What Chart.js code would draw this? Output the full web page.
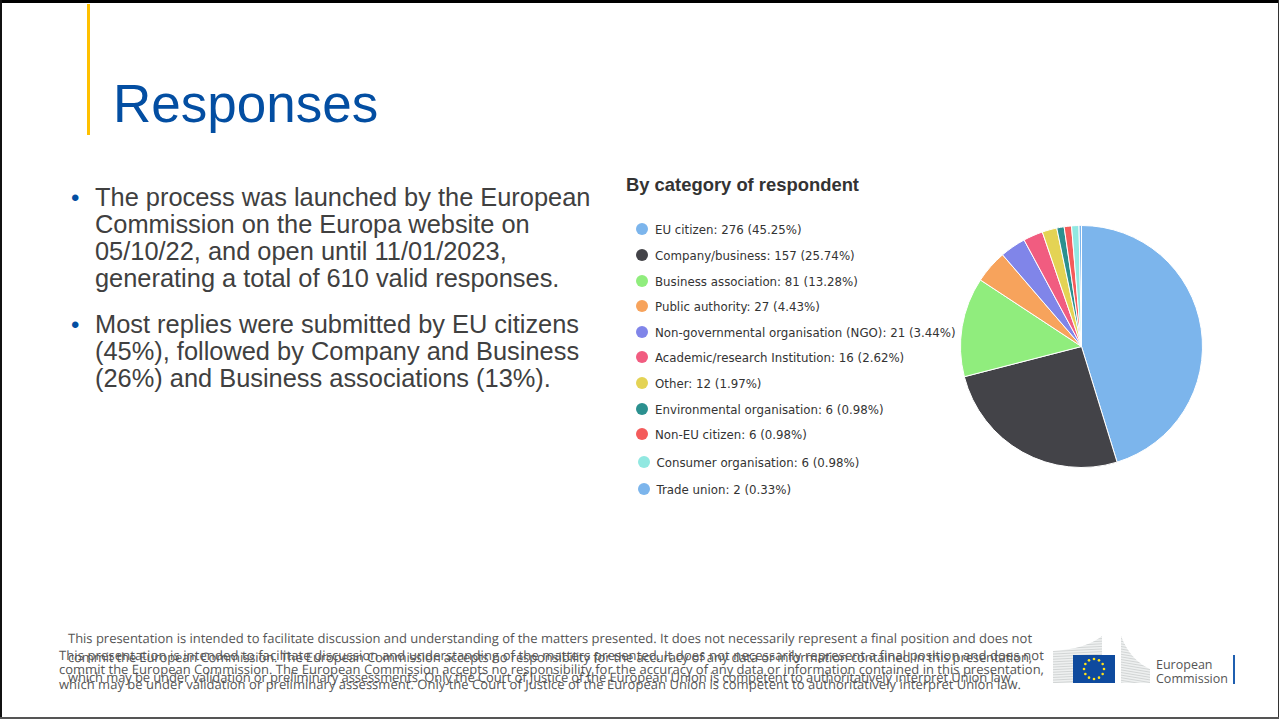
<!DOCTYPE html>
<html>
<head>
<meta charset="utf-8">
<title>Responses</title>
<script src="https://cdn.jsdelivr.net/npm/chart.js@4/dist/chart.umd.min.js"></script>
<style>
html, body { margin: 0; padding: 0; background: #fff; }
#slide { position: absolute; left: 0; top: 0; width: 1279px; height: 719px; overflow: hidden; background: #fff; font-family: "Liberation Sans", Arial, sans-serif; }
#slide div { position: absolute; white-space: nowrap; }
#bTop { left: 0; top: 0; width: 1279px; height: 3px; background: #000; }
#bLeft { left: 0; top: 0; width: 2px; height: 719px; background: #111; }
#bRight { left: 1278px; top: 0; width: 1px; height: 719px; background: #333; }
#bBottom { left: 0; top: 717px; width: 1279px; height: 2px; background: #555; }
#accent { left: 87px; top: 4px; width: 3px; height: 131px; background: #ffc000; }
#title { left: 113px; top: 73px; font-size: 53px; line-height: 62px; color: #034ea2; }
.body { left: 95px; font-size: 25.4px; line-height: 27px; color: #404040; }
.bullet { left: 71px; font-size: 24px; line-height: 27px; color: #034ea2; }
#chartTitle { left: 626px; top: 174px; font-size: 18.4px; line-height: 21px; font-weight: bold; color: #333; }
.dot { width: 12px; height: 12px; border-radius: 50%; }
.lg { font-family: "DejaVu Sans", sans-serif; font-size: 11.8px; line-height: 14px; color: #333; }
.ft { font-family: "Open Sans", sans-serif; font-size: 13px; line-height: 16px; color: #555; text-rendering: geometricPrecision; }
#pieBox { position: absolute; left: 960px; top: 225px; width: 243px; height: 243px; }
#logoText1, #logoText2 { left: 1156px; font-family: "Open Sans", sans-serif; font-size: 12.5px; line-height: 15px; color: #555; }
</style>
</head>
<body>
<div id="slide">
  <div id="bTop"></div><div id="bLeft"></div><div id="bRight"></div><div id="bBottom"></div>
  <div id="accent"></div>
  <div id="title">Responses</div>

  <div class="bullet" style="top:184px">•</div>
  <div class="body" style="top:184px">The process was launched by the European<br>Commission on the Europa website on<br>05/10/22, and open until 11/01/2023,<br>generating a total of 610 valid responses.</div>
  <div class="bullet" style="top:311px">•</div>
  <div class="body" style="top:311px">Most replies were submitted by EU citizens<br>(45%), followed by Company and Business<br>(26%) and Business associations (13%).</div>

  <div id="chartTitle">By category of respondent</div>
  <div id="legend"></div>
  <div id="pieBox"><canvas id="pie" width="243" height="243"></canvas></div>

  <div class="ft" data-w="964" style="left:68px;top:630px">This presentation is intended to facilitate discussion and understanding of the matters presented. It does not necessarily represent a final position and does not</div>
  <div class="ft" data-w="964" style="left:68px;top:649px">commit the European Commission. The European Commission accepts no responsibility for the accuracy of any data or information contained in this presentation,</div>
  <div class="ft" data-w="946" style="left:68px;top:669px">which may be under validation or preliminary assessments. Only the Court of Justice of the European Union is competent to authoritatively interpret Union law.</div>
  <div class="ft" data-w="985" style="left:59px;top:647px">This presentation is intended to facilitate discussion and understanding of the matters presented. It does not necessarily represent a final position and does not</div>
  <div class="ft" data-w="985" style="left:59px;top:661px">commit the European Commission. The European Commission accepts no responsibility for the accuracy of any data or information contained in this presentation,</div>
  <div class="ft" data-w="962" style="left:59px;top:676px">which may be under validation or preliminary assessment. Only the Court of Justice of the European Union is competent to authoritatively interpret Union law.</div>

  <svg id="logo" style="position:absolute;left:1050px;top:630px" width="190" height="60"></svg>
  <div id="logoText1" style="top:657px">European</div>
  <div id="logoText2" style="top:671px">Commission</div>
</div>

<script>
const categorias = ['EU citizen', 'Company/business', 'Business association', 'Public authority',
    'Non-governmental organisation (NGO)', 'Academic/research Institution', 'Other',
    'Environmental organisation', 'Non-EU citizen', 'Consumer organisation', 'Trade union'];
const valores = [276, 157, 81, 27, 21, 16, 12, 6, 6, 6, 2];
const porcentajes = ['45.25', '25.74', '13.28', '4.43', '3.44', '2.62', '1.97', '0.98', '0.98', '0.98', '0.33'];
const colores = ['#7cb5ec', '#434348', '#90ed7d', '#f7a35c', '#8085e9', '#f15c80',
    '#e4d354', '#2b908f', '#f45b5b', '#91e8e1', '#7cb5ec'];

// legend rows are not evenly spaced in the original
const filasY = [229, 255, 281, 306, 332, 357, 383, 409, 434, 462, 489];

const legend = document.getElementById('legend');
categorias.forEach((cat, i) => {
    const corrido = i >= 9 ? 1.5 : 0;
    const dot = document.createElement('div');
    dot.className = 'dot';
    dot.style.left = (636 + corrido) + 'px';
    dot.style.top = (filasY[i] - 6.5) + 'px';
    dot.style.background = colores[i];
    legend.appendChild(dot);

    const txt = document.createElement('div');
    txt.className = 'lg';
    txt.style.left = (655 + corrido) + 'px';
    txt.style.top = (filasY[i] - 6) + 'px';
    txt.innerText = `${cat}: ${valores[i]} (${porcentajes[i]}%)`;
    legend.appendChild(txt);
});

// footer lines have slightly different widths in the original
document.querySelectorAll('.ft').forEach(linea => {
    const ancho = linea.getBoundingClientRect().width;
    linea.style.letterSpacing = ((linea.dataset.w - ancho) / linea.textContent.length) + 'px';
});

new Chart(document.getElementById('pie').getContext('2d'), {
    type: 'pie',
    data: {
        labels: categorias,
        datasets: [{
            data: valores,
            backgroundColor: colores,
            borderColor: '#ffffff',
            borderWidth: 1,
            hoverOffset: 0
        }]
    },
    options: {
        responsive: false,
        animation: false,
        layout: { padding: 0 },
        plugins: { legend: { display: false }, tooltip: { enabled: false } }
    }
});

// European Commission logo
const NS = 'http://www.w3.org/2000/svg';
const logo = document.getElementById('logo');
function add(tag, attrs, parent) {
    const el = document.createElementNS(NS, tag);
    Object.keys(attrs).forEach(k => el.setAttribute(k, attrs[k]));
    (parent || logo).appendChild(el);
    return el;
}
// building silhouettes, striped
const defs = add('defs', {});
const clipA = add('clipPath', { id: 'edifA' }, defs);
add('path', { d: 'M 3 21 Q 36 19 52 6 L 52 25 L 24 25 L 24 53 L 3 53 Z' }, clipA);
const clipB = add('clipPath', { id: 'edifB' }, defs);
add('path', { d: 'M 71 6 Q 80 30 100 39 L 100 53 L 71 53 Z' }, clipB);
const grupoA = add('g', { 'clip-path': 'url(#edifA)' });
const grupoB = add('g', { 'clip-path': 'url(#edifB)' });
add('rect', { x: 0, y: 0, width: 110, height: 60, fill: '#eef0f0' }, grupoA);
add('rect', { x: 0, y: 0, width: 110, height: 60, fill: '#eef0f0' }, grupoB);
for (let y = 6; y < 56; y += 2.6) {
    add('line', { x1: 0, y1: y, x2: 60, y2: y - 3, stroke: '#d2d5d5', 'stroke-width': 1 }, grupoA);
    add('line', { x1: 68, y1: y - 3, x2: 104, y2: y + 3, stroke: '#d2d5d5', 'stroke-width': 1 }, grupoB);
}
add('rect', { x: 23, y: 25, width: 42, height: 28, fill: '#0e4a9e' });
for (let s = 0; s < 12; s++) {
    const a = s * Math.PI / 6;
    add('circle', { cx: 44 + 10 * Math.cos(a), cy: 39 + 10 * Math.sin(a), r: 1.3, fill: '#ffe11a' });
}
add('rect', { x: 183, y: 25, width: 2, height: 29, fill: '#1f5fb0' });
</script>
</body>
</html>
